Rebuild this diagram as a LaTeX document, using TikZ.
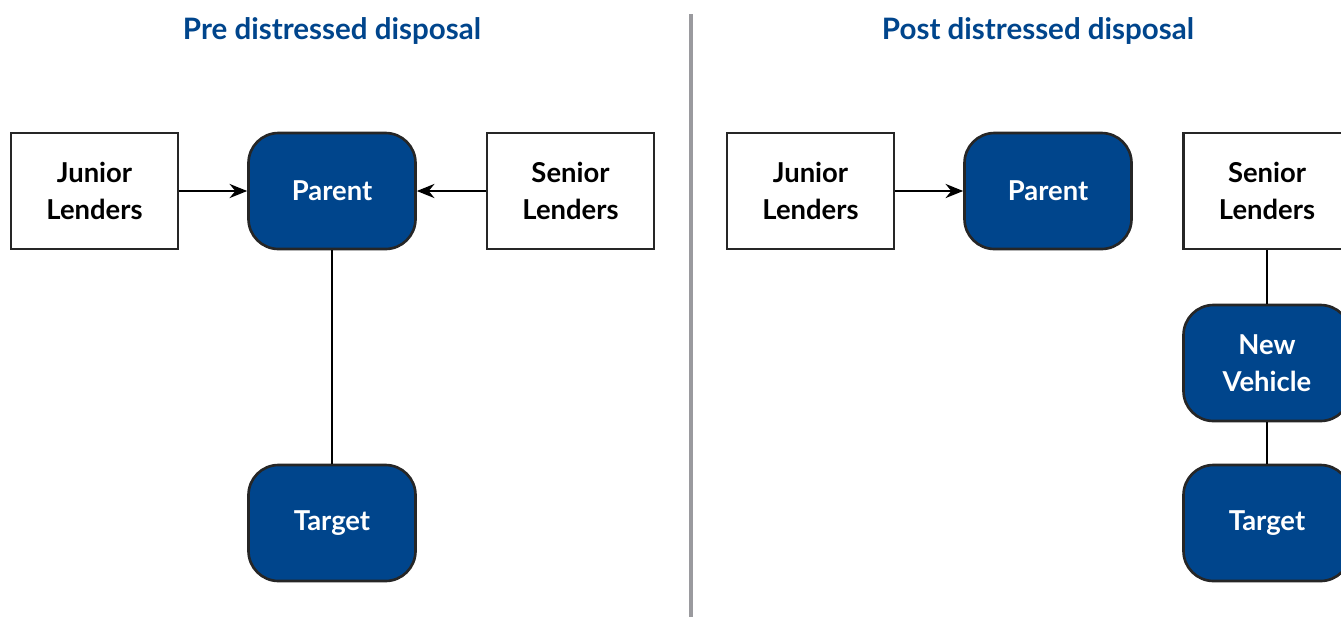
\documentclass[tikz,border=0pt]{standalone}
\usepackage{fontspec}
\setmainfont{Lato}
\usepackage{tikz}
\usetikzlibrary{arrows.meta}
\definecolor{dispblue}{RGB}{0,69,140}
\definecolor{divgray}{RGB}{154,154,158}

\begin{document}
\begin{tikzpicture}[>={Stealth[length=10pt,width=8pt]},line width=1.5pt,
        box/.style={rectangle,draw=black!85,fill=white,minimum width=3.34cm,
                minimum height=2.32cm,align=center,font=\fontsize{15.6}{21}\selectfont\bfseries},
        entity/.style={box,rounded corners=0.6cm,fill=dispblue,text=white},
        title/.style={text=dispblue,font=\fontsize{16.8}{20}\selectfont\bfseries}]
                \useasboundingbox (0,0) rectangle (26.82,-12.34);
                \clip (0,0) rectangle (26.82,-12.34);
                % pre
                \node[title] (pretitle) at (6.64,-0.62) {Pre distressed disposal};
                \node[box] (junL) at (1.89,-3.82) {Junior\\Lenders};
                \node[entity] (parL) at (6.64,-3.82) {Parent};
                \node[box] (senL) at (11.41,-3.82) {Senior\\Lenders};
                \node[entity] (tgtL) at (6.64,-10.46) {Target};
                \draw[->] (junL) -- (parL);
                \draw[->] (senL) -- (parL);
                \draw (parL) -- (tgtL);
                % divider
                \coordinate (divtop) at (13.82,-0.28);
                \coordinate (divbot) at (13.82,-12.34);
                \draw[divgray,line width=2.8pt] (divtop) -- (divbot);
                % post
                \node[title] (posttitle) at (20.76,-0.62) {Post distressed disposal};
                \node[box] (junR) at (16.21,-3.82) {Junior\\Lenders};
                \node[entity] (parR) at (20.96,-3.82) {Parent};
                \node[box] (senR) at (25.34,-3.82) {Senior\\Lenders};
                \node[entity] (newv) at (25.34,-7.26) {New\\Vehicle};
                \node[entity] (tgtR) at (25.34,-10.46) {Target};
                \draw[->] (junR) -- (parR);
                \draw (senR) -- (newv) -- (tgtR);
\end{tikzpicture}
\end{document}
